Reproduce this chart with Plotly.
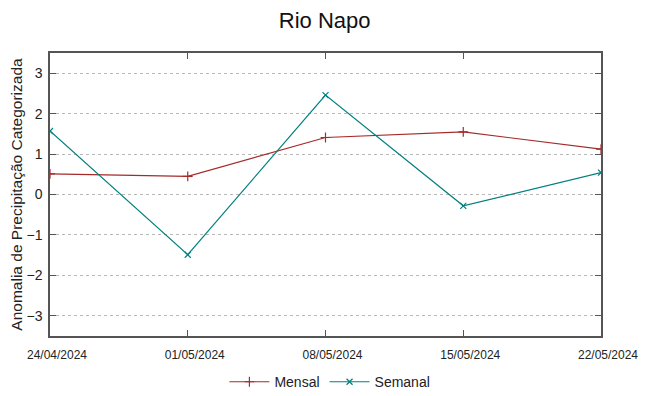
import plotly.graph_objects as go

dates = ["2024-04-24", "2024-05-01", "2024-05-08", "2024-05-15", "2024-05-22"]
tick_labels = ["24/04/2024", "01/05/2024", "08/05/2024", "15/05/2024", "22/05/2024"]
mensal = [0.51, 0.45, 1.41, 1.55, 1.12]
semanal = [1.57, -1.49, 2.46, -0.28, 0.54]
y_ticks = [-3, -2, -1, 0, 1, 2, 3]

RED = "#a52a2a"
TEAL = "#00807f"
FONT = "Liberation Sans, Arial, sans-serif"

fig = go.Figure()
fig.add_trace(go.Scatter(
    x=dates, y=mensal, name="Mensal", mode="lines+markers",
    line=dict(color=RED, width=1.2),
    marker=dict(symbol="cross-thin", size=7, line=dict(color=RED, width=1.2)),
))
fig.add_trace(go.Scatter(
    x=dates, y=semanal, name="Semanal", mode="lines+markers",
    line=dict(color=TEAL, width=1.2),
    marker=dict(symbol="x-thin", size=6, line=dict(color=TEAL, width=1.2)),
))

# page body has an 8px margin, so the figure is sized and offset to compensate
fig.update_layout(
    width=641, height=388,
    margin=dict(l=42, r=48, t=45, b=60, autoexpand=False),
    paper_bgcolor="white", plot_bgcolor="white",
    font=dict(family=FONT, color="#222"),
    title=dict(text="Rio Napo", xref="container", x=0.494, xanchor="center",
               y=0.969, yanchor="middle", font=dict(size=22, color="#111")),
    showlegend=True,
    legend=dict(orientation="h", x=0.508, xanchor="center", y=-0.163, yanchor="middle",
                font=dict(size=14, color="#222"), itemwidth=40, traceorder="normal"),
)
fig.update_xaxes(
    type="date", range=[dates[0], dates[-1]],
    tickvals=dates, ticktext=tick_labels,
    tickfont=dict(size=12, color="#222"), ticklabelstandoff=7, ticklabelshift=7,
    showgrid=False, zeroline=False, automargin=False,
    showline=True, linecolor="#555", linewidth=1.5, mirror="ticks",
    ticks="inside", ticklen=6, tickcolor="#555",
)
fig.update_yaxes(
    range=[-3.5, 3.5], tickvals=y_ticks,
    tickfont=dict(size=14, color="#222"), ticklabelstandoff=3,
    showgrid=True, gridcolor="#b8b8b8", griddash="dot", gridwidth=1,
    zeroline=False, automargin=False,
    showline=True, linecolor="#555", linewidth=1.5, mirror="ticks",
    ticks="inside", ticklen=6, tickcolor="#555",
    title=dict(text="Anomalia de Precipitação Categorizada", font=dict(size=15.5, color="#222"), standoff=3),
)

fig.write_html("out.html")
